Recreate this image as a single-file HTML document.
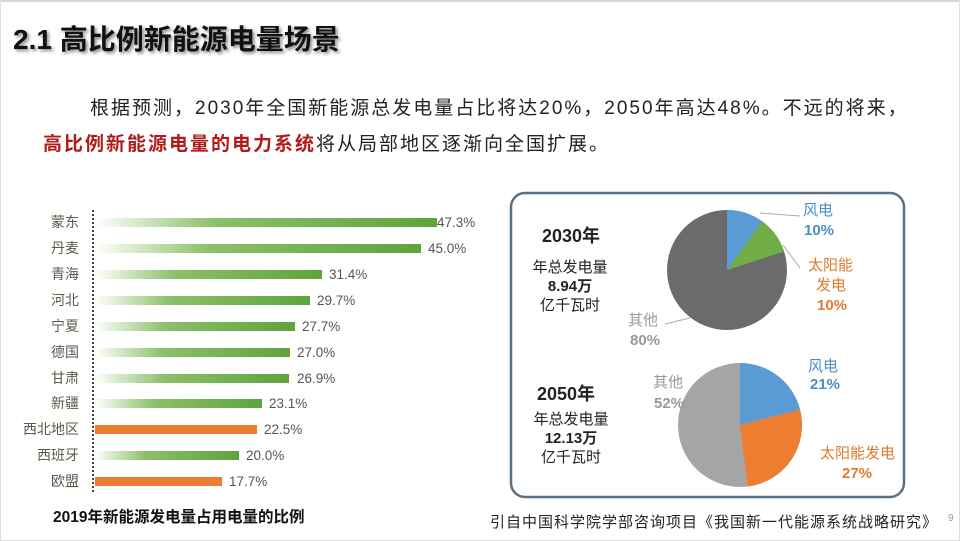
<!DOCTYPE html>
<html><head><meta charset="utf-8"><style>
body{margin:0;width:960px;height:540px;overflow:hidden;background:#fff;font-family:"Liberation Sans","Noto Sans CJK SC",sans-serif;position:relative}
.a{position:absolute;white-space:nowrap}
</style></head><body>
<div class="a" style="left:0;top:0;width:958px;height:538px;border:1px solid #ddd;border-top:2px solid #d8d8d8"></div>
<div class="a" style="left:13px;top:18px;font-size:28px;font-weight:bold;color:#111;text-shadow:2px 2px 3px #888">2.1 高比例新能源电量场景</div>
<div class="a" style="left:90px;top:93px;font-size:19px;letter-spacing:2px;color:#222">根据预测，2030年全国新能源总发电量占比将达20%，2050年高达48%。不远的将来，</div>
<div class="a" style="left:43px;top:129px;font-size:19px;letter-spacing:2px;color:#222"><b style="color:#b01c1c">高比例新能源电量的电力系统</b>将从局部地区逐渐向全国扩展。</div>

<svg class="a" style="left:0;top:0" width="960" height="540">
<defs><linearGradient id="g" x1="0" x2="1"><stop offset="0" stop-color="#fff"/><stop offset="0.35" stop-color="#8bc06a"/><stop offset="1" stop-color="#5fa33c"/></linearGradient></defs>
<line x1="93" y1="210" x2="93" y2="493" stroke="#444" stroke-width="2" stroke-dasharray="2,2"/>
<g font-size="14" fill="#5a5a4a" text-anchor="end">
<text x="79" y="227">蒙东</text><text x="79" y="253">丹麦</text><text x="79" y="279">青海</text><text x="79" y="305">河北</text><text x="79" y="331">宁夏</text><text x="79" y="357">德国</text><text x="79" y="383">甘肃</text><text x="79" y="408">新疆</text><text x="79" y="434">西北地区</text><text x="79" y="460">西班牙</text><text x="79" y="486">欧盟</text>
</g>
<g>
<rect x="95" y="218" width="342" height="9" fill="url(#g)"/>
<rect x="95" y="244" width="326" height="9" fill="url(#g)"/>
<rect x="95" y="270" width="227" height="9" fill="url(#g)"/>
<rect x="95" y="296" width="215" height="9" fill="url(#g)"/>
<rect x="95" y="322" width="200" height="9" fill="url(#g)"/>
<rect x="95" y="348" width="195" height="9" fill="url(#g)"/>
<rect x="95" y="374" width="194" height="9" fill="url(#g)"/>
<rect x="95" y="399" width="167" height="9" fill="url(#g)"/>
<rect x="95" y="425" width="162" height="9" fill="#ed7d31"/>
<rect x="95" y="451" width="144" height="9" fill="url(#g)"/>
<rect x="95" y="477" width="127" height="9" fill="#ed7d31"/>
</g>
<g font-size="13.5" fill="#555">
<text x="437" y="227">47.3%</text><text x="428" y="253">45.0%</text><text x="329" y="279">31.4%</text><text x="317" y="305">29.7%</text><text x="302" y="331">27.7%</text><text x="297" y="357">27.0%</text><text x="297" y="383">26.9%</text><text x="269" y="408">23.1%</text><text x="264" y="434">22.5%</text><text x="246" y="460">20.0%</text><text x="229" y="486">17.7%</text>
</g>
<text x="53" y="522" font-size="15.5" font-weight="bold" fill="#111">2019年新能源发电量占用电量的比例</text>

<rect x="511" y="193" width="393" height="304" rx="14" fill="#fff" stroke="#5d7080" stroke-width="2.5"/>
<circle cx="727" cy="270" r="60" fill="#6b6b6b"/>
<path d="M727,270 L727,210 A60,60 0 0 1 762.3,221.5 Z" fill="#5b9bd5"/>
<path d="M727,270 L762.3,221.5 A60,60 0 0 1 784.1,251.5 Z" fill="#70ad47"/>
<circle cx="740" cy="425" r="62" fill="#a5a5a5"/>
<path d="M740,425 L740,363 A62,62 0 0 1 800.1,409.6 Z" fill="#5b9bd5"/>
<path d="M740,425 L800.1,409.6 A62,62 0 0 1 747.8,486.5 Z" fill="#ed7d31"/>
<polyline points="760,213 800,216" stroke="#aaa" fill="none"/>
<polyline points="783,245 800,268" stroke="#aaa" fill="none"/>
<polyline points="665,324 690,318" stroke="#aaa" fill="none"/>
<g font-size="15" font-weight="bold">
<text x="803" y="215" fill="#4f8bc7" font-weight="normal">风电</text><text x="804" y="235" fill="#4f8bc7">10%</text>
<text x="808" y="270" fill="#e07a2e" font-weight="normal">太阳能</text><text x="816" y="290" fill="#e07a2e" font-weight="normal">发电</text><text x="817" y="310" fill="#e07a2e">10%</text>
<text x="628" y="325" fill="#999" font-weight="normal">其他</text><text x="630" y="345" fill="#999">80%</text>
<text x="808" y="371" fill="#4f8bc7" font-weight="normal">风电</text><text x="810" y="389" fill="#4f8bc7">21%</text>
<text x="820" y="458" fill="#e07a2e" font-weight="normal">太阳能发电</text><text x="842" y="478" fill="#e07a2e">27%</text>
<text x="653" y="387" fill="#999" font-weight="normal">其他</text><text x="654" y="408" fill="#999">52%</text>
</g>
<g text-anchor="middle" fill="#222">
<text x="571" y="242" font-size="18" font-weight="bold">2030年</text>
<text x="570" y="272" font-size="15">年总发电量</text>
<text x="570" y="291" font-size="15" font-weight="bold">8.94万</text>
<text x="570" y="310" font-size="15">亿千瓦时</text>
<text x="566" y="400" font-size="18" font-weight="bold">2050年</text>
<text x="571" y="424" font-size="15">年总发电量</text>
<text x="571" y="443" font-size="15" font-weight="bold">12.13万</text>
<text x="571" y="462" font-size="15">亿千瓦时</text>
</g>
<text x="490" y="527" font-size="15" letter-spacing="1" fill="#222">引自中国科学院学部咨询项目《我国新一代能源系统战略研究》</text>
<text x="948" y="521" font-size="10" fill="#999">9</text>
</svg>
</body></html>
